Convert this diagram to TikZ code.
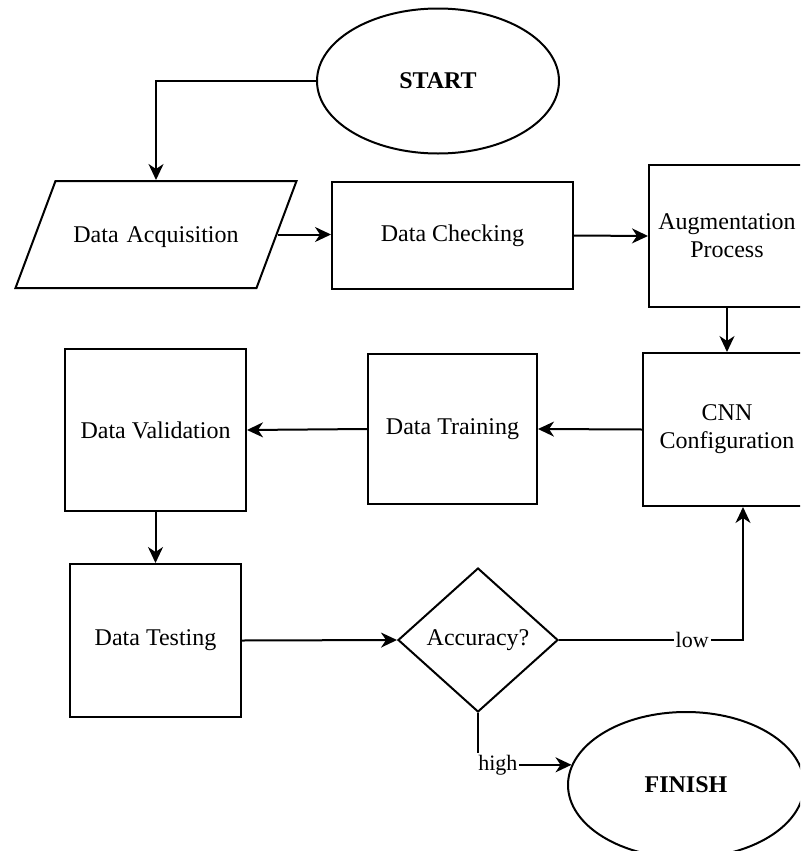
\documentclass[tikz,border=0pt]{standalone}
\usepackage{fontspec}
\setmainfont{Liberation Serif}
\usetikzlibrary{shapes.geometric,arrows.meta}

\begin{document}
\begin{tikzpicture}[x=0.5pt,y=-0.5pt,
  every node/.style={font=\fontsize{12}{14}\selectfont},
  box/.style={draw,line width=1pt,rectangle,align=center,inner sep=0pt},
  terminal/.style={draw,line width=1pt,ellipse,inner sep=0pt,font=\fontsize{12}{14}\selectfont\bfseries},
  flow/.style={line width=1pt,-{Stealth[length=8pt,width=7.5pt,inset=2.5pt]}},
  edgelabel/.style={fill=white,inner sep=1pt,font=\fontsize{11}{13}\selectfont}]
  % Frame (right edge cuts the last column)
  \useasboundingbox (0,0) rectangle (800,851);
  \clip (0,0) rectangle (800,851);

  % Start and end
  \node[terminal,minimum width=121pt,minimum height=72.5pt] (start) at (438,81) {START};
  \node[terminal,minimum width=118pt,minimum height=73pt] (finish) at (686,785) {FINISH};

  % First row
  \node[draw,line width=1pt,trapezium,trapezium left angle=69.5,trapezium right angle=110.5,
        inner sep=0pt,text width=100.5pt,align=center,text height=30.5pt,text depth=23pt]
        (acq) at (156,234.5) {Data Acquisition};
  \node[box,minimum width=120.5pt,minimum height=53.5pt] (check) at (452.5,235.5) {Data Checking};
  \node[box,minimum width=78pt,minimum height=71pt] (aug) at (727,236) {Augmentation\\Process};

  % Second row
  \node[box,minimum width=84pt,minimum height=76.5pt] (cnn) at (727,429.5) {CNN\\Configuration};
  \node[box,minimum width=84.5pt,minimum height=75pt] (train) at (452.5,429) {Data Training};
  \node[box,minimum width=90.5pt,minimum height=81pt] (valid) at (155.5,430) {Data Validation};

  % Third row
  \node[box,minimum width=85.5pt,minimum height=76.5pt] (test) at (155.5,640.5) {Data Testing};
  \node[draw,line width=1pt,diamond,minimum width=80pt,minimum height=72pt,inner sep=0pt] (acc) at (478,640) {Accuracy?};

  % Connectors
  \draw[flow] (start.west) -| (acq.north);
  \draw[flow] (acq.east) -- (acq.east -| check.west);
  \draw[flow] (check.east) -- (aug.west);
  \draw[flow] (aug.south) -- (cnn.north);
  \draw[flow] (cnn.west) -- (train.east);
  \draw[flow] (train.west) -- (valid.east);
  \draw[flow] (valid.south) -- (test.north);
  \draw[flow] (test.east) -- (acc.west);

  % Decision branches
  \draw[flow] (acc.east) -| node[edgelabel,pos=0.362] {low} ([xshift=8pt]cnn.south);
  \draw[flow] (acc.south) |- node[edgelabel,pos=0.606] {high} (finish.170);
\end{tikzpicture}
\end{document}
